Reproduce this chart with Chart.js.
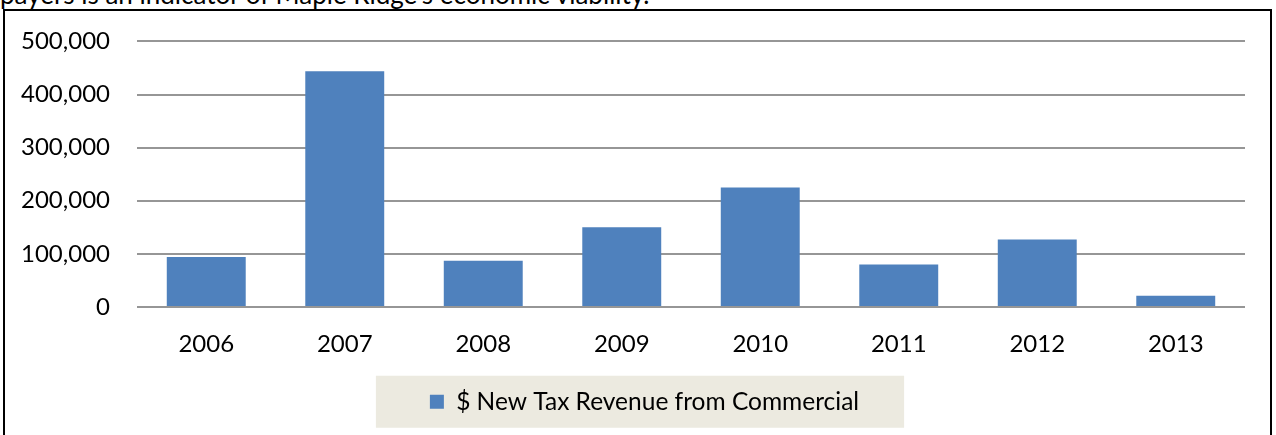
<!DOCTYPE html>
<html>
<head>
<meta charset="utf-8">
<script src="https://cdn.jsdelivr.net/npm/chart.js@4.4.1/dist/chart.umd.min.js"></script>
<style>
  html, body { margin: 0; padding: 0; background: #fff; overflow: hidden; }
  body { width: 1276px; height: 435px; position: relative; }
  #lead {
    position: absolute; left: 0; top: -19px;
    font-family: Lato, "Open Sans", sans-serif; font-size: 26px; line-height: 26px;
    color: #000; white-space: nowrap;
  }
  #frame {
    position: absolute; left: 3px; top: 9px; width: 1269px; height: 440px;
    border: 2px solid #000; box-sizing: border-box;
  }
  #wrap { position: absolute; left: 0; top: 0; width: 1276px; height: 435px; }
</style>
</head>
<body>
<div id="lead">payers is an indicator of Maple Ridge's economic viability.</div>
<div id="frame"></div>
<div id="wrap"><canvas id="c" width="1276" height="435"></canvas></div>
<script>
// Commercial tax revenue by year
const years = ['2006', '2007', '2008', '2009', '2010', '2011', '2012', '2013'];
const newTaxRevenue = [94000, 444000, 87000, 150000, 225000, 80000, 127000, 21000];
const seriesLabel = '$ New Tax Revenue from Commercial';
const yTicks = [0, 100000, 200000, 300000, 400000, 500000];

const FONT = 'Lato, "Open Sans", sans-serif';

// nudge the legend row a little right of the canvas centre
const legendShift = {
  id: 'legendShift',
  afterLayout(chart) {
    const lg = chart.legend;
    if (!lg) return;
    lg.left += 22;
    lg.right += 22;
  }
};

// beige panel behind the legend
const legendPanel = {
  id: 'legendPanel',
  beforeDraw(chart) {
    const lg = chart.legend;
    if (!lg || !lg.legendHitBoxes || !lg.legendHitBoxes.length) return;
    const hb = lg.legendHitBoxes[0];
    const cy = hb.top + hb.height / 2;
    const ctx = chart.ctx;
    ctx.save();
    ctx.fillStyle = '#ECEAE0';
    ctx.fillRect(hb.left - 54, cy - 26, hb.width + 54 + 45, 52);
    ctx.restore();
  }
};

new Chart(document.getElementById('c'), {
  type: 'bar',
  data: {
    labels: years,
    datasets: [{
      label: seriesLabel,
      data: newTaxRevenue,
      backgroundColor: '#4F81BD',
      borderWidth: 0,
      categoryPercentage: 1,
      barPercentage: 0.57
    }]
  },
  options: {
    responsive: false,
    animation: false,
    layout: { padding: { left: 0, right: 31, top: 40, bottom: 11 } },
    plugins: {
      tooltip: { enabled: false },
      legend: {
        position: 'bottom',
        labels: {
          boxWidth: 14, boxHeight: 14, padding: 10,
          color: '#000',
          font: { family: FONT, size: 24.5 }
        }
      }
    },
    scales: {
      x: {
        grid: { display: false },
        border: { display: false },
        ticks: { color: '#000', font: { family: FONT, size: 24 }, padding: 14.5 },
        afterFit(scale) { scale.height = 72.5; }
      },
      y: {
        min: 0, max: 500000,
        afterBuildTicks(scale) { scale.ticks = yTicks.map(v => ({ value: v })); },
        grid: { color: '#969696', lineWidth: 2, drawTicks: false },
        border: { display: false },
        ticks: {
          color: '#000', font: { family: FONT, size: 24 }, padding: 27,
          callback: v => Number(v).toLocaleString('en-US')
        },
        afterFit(scale) { scale.width = 137; }
      }
    }
  },
  plugins: [legendShift, legendPanel]
});
</script>
</body>
</html>
